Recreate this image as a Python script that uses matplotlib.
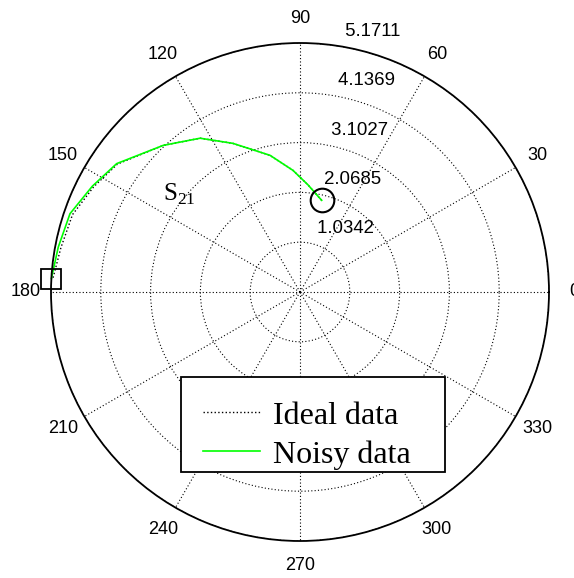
import matplotlib.pyplot as plt
import matplotlib.transforms as mtransforms
from matplotlib.patches import Rectangle
import numpy as np

plt.rcParams['mathtext.fontset'] = 'custom'
plt.rcParams['mathtext.rm'] = 'Liberation Serif'

# ring values and angle labels
rmax = 5.1711
ring_vals = [1.0342, 2.0685, 3.1027, 4.1369, 5.1711]
ring_labels = ['1.0342', '2.0685', '3.1027', '4.1369', '5.1711']
angle_ticks = [0, 30, 60, 90, 120, 150, 180, 210, 240, 270, 300, 330]

# S21 data (degrees, magnitude)
theta_deg = [76.7, 85.7, 93.3, 102.4, 114.3, 123.0, 133.0, 145.0, 153.0, 161.2, 169.5, 176.9]
r_noisy = [1.956, 2.23, 2.53, 2.907, 3.387, 3.808, 4.164, 4.648, 4.84, 5.046, 5.106, 5.171]
r_ideal = [1.956, 2.23, 2.53, 2.907, 3.387, 3.808, 4.164, 4.63, 4.81, 4.99, 5.05, 5.14]

fig = plt.figure(figsize=(5.74, 5.78), dpi=100)
ax = fig.add_axes([51 / 574, 37 / 578, 498 / 574, 498 / 578], projection='polar')

th = np.deg2rad(theta_deg)
ax.plot(th, r_ideal, color='black', linestyle=':', lw=1.0, label='Ideal data', clip_on=False)
ax.plot(th, r_noisy, color='#00ff00', lw=1.2, label='Noisy data', clip_on=False)
ax.plot(th[0], r_noisy[0], 'o', mfc='none', mec='black', ms=17, mew=1.5, clip_on=False)
ax.plot(th[-1], r_noisy[-1], 's', mfc='none', mec='black', ms=14, mew=1.3, clip_on=False)

ax.set_ylim(0, rmax)
ax.set_yticks(ring_vals)
ax.set_yticklabels([])
ax.set_xticks(np.deg2rad(angle_ticks))
ax.set_xticklabels([])
ax.tick_params(length=0)
ax.grid(True, color='black', linestyle=(0, (1, 2)), lw=0.8)
ax.spines['polar'].set_linewidth(1.3)

# MATLAB style labels
for a in angle_ticks:
    ax.text(np.deg2rad(a), 1.1 * rmax, str(a), ha='center', va='center',
            fontsize=13, family='Liberation Sans')
rinc = ring_vals[0]
shifted = mtransforms.offset_copy(ax.transData, fig=fig, x=5, y=3, units='dots')
for v, lab in zip(ring_vals, ring_labels):
    ax.text(np.deg2rad(82), v + rinc / 20, ' ' + lab, ha='left', va='bottom',
            fontsize=13.4, family='Liberation Sans', transform=shifted)

ax.text(np.deg2rad(146.2), 3.42, r'S$_{21}$', ha='left', va='baseline',
        fontsize=18, family='Liberation Serif')

leg = ax.legend(loc='upper left', bbox_to_anchor=(0.3052, 0.2807), borderaxespad=0,
                frameon=False, prop={'family': 'Liberation Serif', 'size': 23},
                handlelength=1.8, handletextpad=0.4, labelspacing=0.3, borderpad=0)

# MATLAB style legend box, padded unevenly around the legend contents
fig.canvas.draw()
bb = leg.get_window_extent()
pad_l, pad_r, pad_t, pad_b = 22, 34, 24, 2
box = Rectangle((bb.x0 - pad_l, bb.y0 - pad_b), bb.width + pad_l + pad_r,
                bb.height + pad_t + pad_b, transform=mtransforms.IdentityTransform(),
                facecolor='white', edgecolor='black', lw=1.3, zorder=4.9, clip_on=False)
ax.add_artist(box)

fig.savefig('out.png', dpi=100)
